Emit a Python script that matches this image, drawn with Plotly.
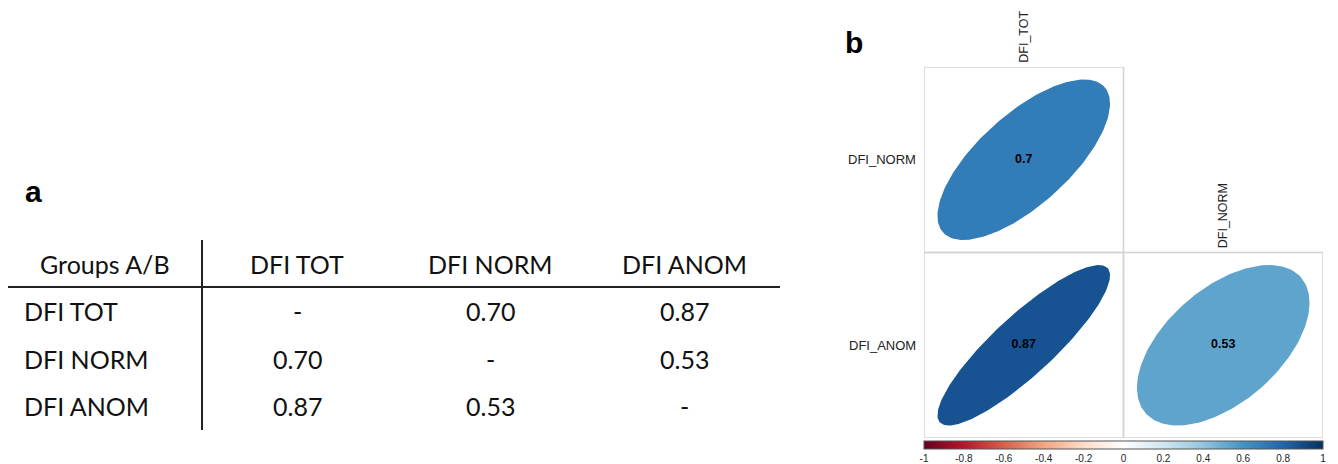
import numpy as np
import plotly.graph_objects as go

# ---------------- data ----------------
table_header = ["Groups A/B", "DFI TOT", "DFI NORM", "DFI ANOM"]
table_rows = ["DFI TOT", "DFI NORM", "DFI ANOM"]
table_vals = [
    ["-", "0.70", "0.87"],
    ["0.70", "-", "0.53"],
    ["0.87", "0.53", "-"],
]

corr_vars = ["DFI_TOT", "DFI_NORM", "DFI_ANOM"]
corr_matrix = [
    [1.00, 0.70, 0.87],
    [0.70, 1.00, 0.53],
    [0.87, 0.53, 1.00],
]
corr_labels = [
    ["1", "0.7", "0.87"],
    ["0.7", "1", "0.53"],
    ["0.87", "0.53", "1"],
]
cbar_ticks = [-1, -0.8, -0.6, -0.4, -0.2, 0, 0.2, 0.4, 0.6, 0.8, 1]
cbar_ticktext = ["-1", "-0.8", "-0.6", "-0.4", "-0.2", "0", "0.2", "0.4", "0.6", "0.8", "1"]

RDBU = ["#67001F", "#B2182B", "#D6604D", "#F4A582", "#FDDBC7", "#FFFFFF",
        "#D1E5F0", "#92C5DE", "#4393C3", "#2166AC", "#053061"]

# ---------------- layout constants ----------------
# the page places the plot 8px from the top-left corner (default body margin)
OFF = 8
W, H = 1338 - OFF, 464 - OFF
def PX(p):
    return (p - OFF) / W
def PY(p):
    return 1 - (p - OFF) / H

TABLE_FONT = "Lato"
TABLE_SIZE = 25
col_centers = [105, 297, 490, 684]
row_label_x = 22
header_y = 264
row_ys = [311, 358.5, 406]

def hex2rgb(h):
    h = h.lstrip("#")
    return tuple(int(h[i:i + 2], 16) for i in (0, 2, 4))

def corr_color(r):
    pos = (r + 1) / 2 * (len(RDBU) - 1)
    i = int(min(np.floor(pos), len(RDBU) - 2))
    f = pos - i
    a, b = hex2rgb(RDBU[i]), hex2rgb(RDBU[i + 1])
    c = [round(a[k] + (b[k] - a[k]) * f) for k in range(3)]
    return "rgb({},{},{})".format(*c)

colorscale = [[i / (len(RDBU) - 1), c] for i, c in enumerate(RDBU)]

fig = go.Figure()
annotations = []
shapes = []

# ---------------- panel a: table ----------------
annotations.append(dict(text="<b>a</b>", x=PX(33), y=PY(191), xref="paper", yref="paper",
                        showarrow=False, xanchor="center", yanchor="middle",
                        font=dict(family="Liberation Sans, Arial", size=30, color="black")))
for j, h in enumerate(table_header):
    annotations.append(dict(text=h, x=PX(col_centers[j]), y=PY(header_y), xref="paper", yref="paper",
                            showarrow=False, xanchor="center", yanchor="middle",
                            font=dict(family=TABLE_FONT, size=TABLE_SIZE, color="#111")))
for i, rname in enumerate(table_rows):
    annotations.append(dict(text=rname, x=PX(row_label_x), y=PY(row_ys[i]), xref="paper", yref="paper",
                            showarrow=False, xanchor="left", yanchor="middle",
                            font=dict(family=TABLE_FONT, size=TABLE_SIZE, color="#111")))
    for j, v in enumerate(table_vals[i]):
        annotations.append(dict(text=v, x=PX(col_centers[j + 1]), y=PY(row_ys[i]), xref="paper", yref="paper",
                                showarrow=False, xanchor="center", yanchor="middle",
                                font=dict(family=TABLE_FONT, size=TABLE_SIZE, color="#111")))
shapes.append(dict(type="line", xref="paper", yref="paper", x0=PX(8), x1=PX(780), y0=PY(287), y1=PY(287),
                   line=dict(color="#222", width=2)))
shapes.append(dict(type="line", xref="paper", yref="paper", x0=PX(202), x1=PX(202), y0=PY(240), y1=PY(430),
                   line=dict(color="#222", width=2)))

# ---------------- panel b: corrplot ----------------
annotations.append(dict(text="<b>b</b>", x=PX(854), y=PY(42), xref="paper", yref="paper",
                        showarrow=False, xanchor="center", yanchor="middle",
                        font=dict(family="Liberation Sans, Arial", size=30, color="black")))

n = len(corr_vars)
scale = 0.865
k = np.linspace(0, 2 * np.pi, 200)
for i in range(1, n):
    for j in range(0, i):
        r = corr_matrix[i][j]
        cx, cy = j + 1, n - i
        d = np.arccos(r) / 2
        ex = cx + 0.5 * scale * np.cos(k + d)
        ey = cy + 0.5 * scale * np.cos(k - d)
        fig.add_trace(go.Scatter(x=ex, y=ey, mode="lines", fill="toself",
                                 fillcolor=corr_color(r), line=dict(width=0, color=corr_color(r)),
                                 hoverinfo="skip", showlegend=False))
        shapes.append(dict(type="rect", xref="x", yref="y", x0=cx - 0.5, x1=cx + 0.5,
                           y0=cy - 0.5, y1=cy + 0.5, line=dict(color="#D3D3D3", width=1.5),
                           layer="below"))
        fig.add_trace(go.Scatter(x=[cx], y=[cy], mode="text", text=["<b>%s</b>" % corr_labels[i][j]],
                                 textfont=dict(family="Liberation Sans, Arial", size=12.5, color="black"),
                                 hoverinfo="skip", showlegend=False))

# row labels
for i in range(1, n):
    annotations.append(dict(text=corr_vars[i], x=PX(918), y=n - i, xref="paper", yref="y",
                            showarrow=False, xanchor="right", yanchor="middle",
                            font=dict(family="Liberation Sans, Arial", size=13, color="#222")))
# column labels
for j in range(0, n - 1):
    annotations.append(dict(text=corr_vars[j], x=j + 1, y=n - (j + 1) + 0.5, xref="x", yref="y",
                            showarrow=False, xanchor="center", yanchor="bottom", textangle=-90,
                            yshift=2,
                            font=dict(family="Liberation Sans, Arial", size=12.5, color="#222")))

# colorbar holder
fig.add_trace(go.Scatter(x=[1], y=[1], mode="markers",
                         marker=dict(size=0.1, opacity=0, color=[0], cmin=-1, cmax=1,
                                     colorscale=colorscale, showscale=True,
                                     colorbar=dict(orientation="h", thickness=8, thicknessmode="pixels",
                                                   len=399, lenmode="pixels",
                                                   x=PX(1123.5), xanchor="center",
                                                   y=PY(441), yanchor="top",
                                                   xpad=0, ypad=0,
                                                   outlinecolor="#555", outlinewidth=1,
                                                   tickvals=cbar_ticks, ticktext=cbar_ticktext,
                                                   ticks="", tickfont=dict(family="Liberation Sans, Arial",
                                                                           size=10, color="#222"))),
                         hoverinfo="skip", showlegend=False))

fig.update_layout(
    width=W, height=H,
    margin=dict(l=0, r=0, t=0, b=0),
    paper_bgcolor="white", plot_bgcolor="white",
    xaxis=dict(domain=[PX(924), PX(1323)], range=[0.5, 2.5], visible=False, fixedrange=True),
    yaxis=dict(domain=[PY(438), PY(67)], range=[0.5, 2.5], visible=False, fixedrange=True),
    annotations=annotations,
    shapes=shapes,
    showlegend=False,
)

fig.write_html("out.html")
